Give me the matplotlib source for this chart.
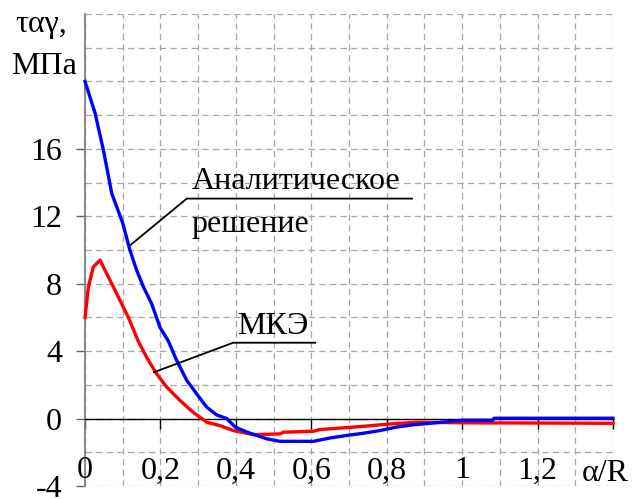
import numpy as np
import matplotlib
matplotlib.use('Agg')
import matplotlib.pyplot as plt

plt.rcParams['font.family'] = ['Liberation Serif', 'DejaVu Serif']

# analytical solution (blue)
x_analyt = [0.0, 0.027, 0.049, 0.071, 0.10, 0.119, 0.137, 0.155, 0.177, 0.199,
            0.221, 0.243, 0.27, 0.296, 0.323, 0.349, 0.376, 0.398, 0.429, 0.482,
            0.517, 0.606, 0.65, 0.694, 0.738, 0.782, 0.827, 0.87, 0.915, 1.0,
            1.08, 1.085, 1.4]
y_analyt = [20.0, 18.1, 15.9, 13.35, 11.6, 10.0, 8.8, 7.8, 6.8, 5.4,
            4.6, 3.45, 2.26, 1.47, 0.67, 0.22, 0.0, -0.5, -0.8, -1.2,
            -1.35, -1.35, -1.15, -1.0, -0.87, -0.71, -0.5, -0.37, -0.28, -0.1,
            -0.1, 0.02, 0.02]

# FEM solution (red)
x_fem = [0.0, 0.009, 0.022, 0.04, 0.053, 0.071, 0.093, 0.115, 0.141, 0.163,
         0.19, 0.217, 0.252, 0.287, 0.323, 0.358, 0.393, 0.446, 0.517, 0.526,
         0.606, 0.623, 0.667, 0.738, 0.809, 0.88, 1.0, 1.4]
y_fem = [6.0, 7.8, 9.0, 9.4, 8.8, 8.0, 7.0, 6.0, 4.6, 3.65,
         2.65, 1.86, 1.07, 0.37, -0.22, -0.42, -0.71, -0.95, -0.91, -0.81,
         -0.75, -0.65, -0.58, -0.46, -0.32, -0.22, -0.25, -0.28]

x_major = [0, 0.2, 0.4, 0.6, 0.8, 1.0, 1.2, 1.4]
x_labels = ['0', '0,2', '0,4', '0,6', '0,8', '1', '1,2']
y_major = [-4, 0, 4, 8, 12, 16]
y_labels = ['-4', '0', '4', '8', '12', '16']

fs = 23
serif = 'Liberation Serif'
grid_col = '#a6a6a6'
dash = (0, (5, 3.5))

fig = plt.figure(figsize=(6.39, 4.99), dpi=100)
ax = fig.add_axes([85 / 639, 1 - 486 / 499, 528 / 639, 472 / 499])

ax.set_xlim(0, 1.4)
ax.set_ylim(-4, 24)

ax.set_xticks(x_major)
ax.set_xticks(np.arange(0, 1.41, 0.1), minor=True)
ax.set_yticks(y_major)
ax.set_yticks(np.arange(-4, 24.1, 2), minor=True)
ax.set_yticklabels(y_labels, fontsize=fs, family=serif)
ax.set_xticklabels([])

ax.grid(True, which='both', color=grid_col, linestyle=dash, linewidth=0.9)
ax.set_axisbelow(True)

for s in ['top', 'right']:
    ax.spines[s].set_visible(False)
ax.spines['left'].set_color('#808080')
ax.spines['left'].set_linewidth(1.3)
ax.spines['bottom'].set_position(('data', 0))
ax.spines['bottom'].set_color('black')
ax.spines['bottom'].set_linewidth(1.0)

ax.tick_params(axis='x', which='major', direction='out', length=7, width=1.0, color='black')
ax.tick_params(axis='y', which='major', direction='out', length=6.5, width=1.0,
               color='#606060', pad=10)
ax.tick_params(which='minor', length=0)
ax.yaxis.get_major_ticks()[1].tick1line.set_color('black')

ax.plot(x_analyt, y_analyt, color='#0000ff', lw=2.4, zorder=4, clip_on=False)
ax.plot(x_fem, y_fem, color='#ff0000', lw=2.4, zorder=3, clip_on=False)

for xv, lab in zip(x_major, x_labels):
    ax.text(xv, -3.55, lab, fontsize=fs, family=serif, ha='center', va='baseline')
ax.text(1.38, -3.7, 'α/R', fontsize=fs, family=serif, ha='center', va='baseline')

# leader lines and captions
ax.plot([0.1175, 0.27, 0.867], [10.24, 13.05, 13.05], color='black', lw=1.3, zorder=5)
ax.text(0.283, 13.6, 'Аналитическое', fontsize=fs, family=serif, ha='left', va='baseline')
ax.text(0.283, 11.07, 'решение', fontsize=fs, family=serif, ha='left', va='baseline')

ax.plot([0.183, 0.393, 0.61], [2.75, 4.5, 4.5], color='black', lw=1.3, zorder=5)
ax.text(0.404, 5.03, 'МКЭ', fontsize=fs, family=serif, ha='left', va='baseline')

fig.text(15 / 639, 1 - 32 / 499, 'ταγ,', fontsize=fs, family=serif, ha='left', va='baseline')
fig.text(77 / 639, 1 - 74 / 499, 'МПа', fontsize=fs, family=serif, ha='right', va='baseline')

fig.savefig('out.png', dpi=100)
